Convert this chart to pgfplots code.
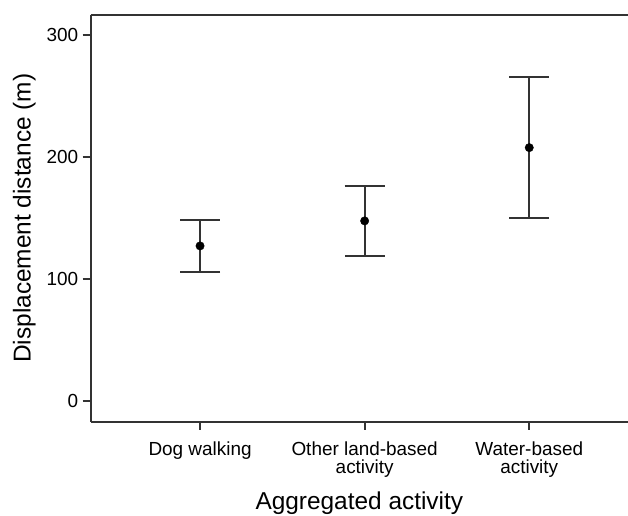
\documentclass[border=0pt]{standalone}
\usepackage{pgfplots}
\pgfplotsset{compat=1.18}
\usepackage{fontspec}
\setmainfont{Liberation Sans}
\definecolor{axisgray}{HTML}{333333}
\begin{document}
\begin{tikzpicture}
\useasboundingbox (-90.7bp,-94.3bp) rectangle (537.3bp,421.7bp);
\begin{axis}[
  scale only axis,
  width=537.3bp, height=407bp,
  at={(0,0)}, anchor=south west,
  xmin=0.3356, xmax=3.60,
  ymin=-17, ymax=316.4,
  separate axis lines,
  axis x line*=box,
  axis y line*=left,
  axis line style={axisgray, line width=2bp},
  xtick={1,2,3},
  xticklabels={Dog walking, Other land-based\\activity, Water-based\\activity},
  ytick={0,100,200,300},
  tick align=outside,
  major tick length=8bp,
  tick style={axisgray, line width=1.8bp},
  xtick pos=bottom,
  ytick pos=left,
  /pgf/number format/assume math mode=true,
  tick label style={font=\fontsize{19}{17.5}\selectfont},
  xticklabel style={align=center, yshift=-9bp},
  yticklabel style={xshift=-1bp},
  xlabel={Aggregated activity},
  ylabel={Displacement distance (m)},
  label style={font=\fontsize{24.5}{28}\selectfont},
  xlabel style={yshift=-8bp},
  ylabel style={yshift=4bp},
  clip=false,
]
\addplot[
  only marks,
  mark=*,
  mark size=4.2bp,
  mark options={fill=black, draw=black},
  error bars/.cd,
    y dir=both, y explicit,
    error bar style={axisgray, line width=2bp},
    error mark options={rotate=90, mark size=20bp, axisgray, line width=2bp},
] coordinates {
  (1,127)   +- (0,21)
  (2,147.5) +- (0,28.5)
  (3,207.5) +- (0,57.5)
};
\end{axis}
\end{tikzpicture}
\end{document}
